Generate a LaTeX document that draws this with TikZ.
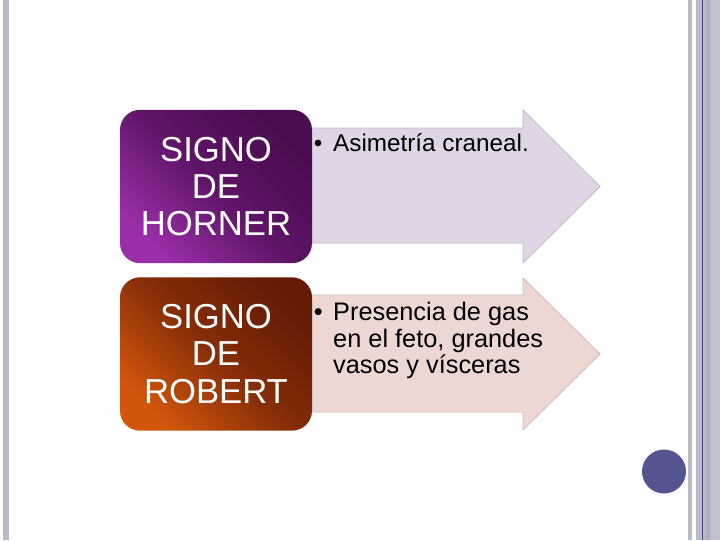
\documentclass[tikz,border=0pt]{standalone}
\usepackage{fontspec}
\setmainfont{Liberation Sans}
\definecolor{barA}{HTML}{B9B9C9}
\definecolor{barB}{HTML}{AEAEC0}
\definecolor{barC}{HTML}{BFBFCD}
\definecolor{lineD}{HTML}{4E4E80}
\definecolor{dotblue}{HTML}{545490}
\definecolor{hornerLight}{HTML}{9A2EA8}
\definecolor{hornerDark}{HTML}{4A0C50}
\definecolor{robertLight}{HTML}{D2560C}
\definecolor{robertDark}{HTML}{641C06}
\definecolor{arrowPurple}{HTML}{DFD5E6}
\definecolor{arrowPurpleLine}{HTML}{C4B8CC}
\definecolor{arrowRose}{HTML}{ECD7D2}
\definecolor{arrowRoseLine}{HTML}{D6B8B4}
\tikzset{
  signbox/.style={shape=rectangle, rounded corners=15pt, minimum width=144pt,
    minimum height=115pt, text=white, align=center, inner sep=0pt,
    font=\fontsize{26pt}{28pt}\selectfont},
  bullettext/.style={anchor=north west, inner sep=0pt, align=left, text=black},
  arrowshape/.style={line width=0.6pt},
}
\begin{document}
\begin{tikzpicture}[x=0.75pt,y=-0.75pt]
\useasboundingbox (0,0) rectangle (720,540);
\fill[white] (0,0) rectangle (720,540);
% frame bars
\fill[barA] (3,0) rectangle (9,540);
\fill[barA] (688,0) rectangle (692,540);
\fill[barA] (696,0) rectangle (720,540);
\fill[barB] (706,0) rectangle (710,540);
\fill[barC] (710,0) rectangle (720,540);
\draw[lineD, line width=0.6pt] (702.5,0) -- (702.5,540);
% decorative dot
\node[circle, fill=dotblue, minimum size=33pt, inner sep=0pt] (dot) at (664,471.5) {};
% arrows
\draw[arrowshape, fill=arrowPurple, draw=arrowPurpleLine]
  (300,128) -- (523,128) -- (523,110) -- (600,186.5) -- (523,263) -- (523,243) -- (300,243) -- cycle;
\draw[arrowshape, fill=arrowRose, draw=arrowRoseLine]
  (300,295) -- (523,295) -- (523,278) -- (600,354) -- (523,430) -- (523,412) -- (300,412) -- cycle;
% boxes
\node[signbox, top color=hornerDark, bottom color=hornerLight, middle color=hornerDark!75!hornerLight, shading angle=-45] (horner) at (216,186.5) {SIGNO\\DE\\HORNER};
\node[signbox, top color=robertDark, bottom color=robertLight, middle color=robertDark!70!robertLight, shading angle=-45] (robert) at (216,354) {SIGNO\\DE\\ROBERT};
% texts
\node[bullettext, font=\fontsize{18.2pt}{19.1pt}\selectfont] (t1) at (313.5,133.5) {\makebox[14.6pt][l]{\textbullet}Asimetría craneal.};
\node[bullettext, font=\fontsize{19pt}{20pt}\selectfont] (t2) at (313.5,302) {\makebox[14.6pt][l]{\textbullet}Presencia de gas\\\hspace*{14.6pt}en el feto, grandes\\\hspace*{14.6pt}vasos y vísceras};
\end{tikzpicture}
\end{document}
